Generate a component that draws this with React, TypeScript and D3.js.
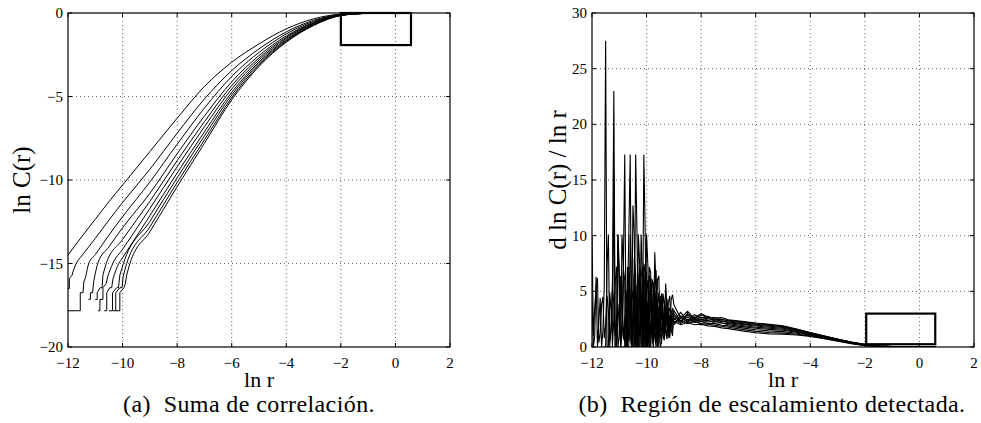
import React from "react";
import * as d3 from "d3";

// ---------- DATA ----------
const X_TICKS = [-12, -10, -8, -6, -4, -2, 0, 2];
const LEFT_Y_TICKS = [0, -5, -10, -15, -20];
const RIGHT_Y_TICKS = [0, 5, 10, 15, 20, 25, 30];

type P = [number, number];

// left panel: ln C(r) curves (stairs at the bottom + smooth body)
const corr1Stairs: P[] = [];
const corr1: P[] = [[-12, -14.5], [-11.5, -13.4], [-11, -12.35], [-10.5, -11.3], [-10, -10.3], [-9, -8.3], [-8, -6.3], [-7, -4.4], [-6, -2.95], [-5, -1.85], [-4, -0.95], [-3, -0.35], [-2, -0.07], [-1, -0.01], [0, 0], [0.6, 0]];
const corr2Stairs: P[] = [[-12, -16.5], [-11.95, -16.5], [-11.95, -15.9], [-11.85, -15.7], [-11.8, -15.4]];
const corr2: P[] = [[-11.8, -15.4], [-11.7, -15.0], [-11.5, -14.55], [-11, -13.5], [-10.5, -12.4], [-10, -11.35], [-9, -9.36], [-8, -7.2], [-7, -5.15], [-6, -3.45], [-5, -2.15], [-4, -1.13], [-3, -0.44], [-2, -0.09], [-1, -0.01], [0, 0], [0.6, 0]];
const corr3Stairs: P[] = [[-12, -17.83], [-11.55, -17.83], [-11.55, -16.75], [-11.45, -16.75], [-11.42, -16.1], [-11.35, -15.8]];
const corr3: P[] = [[-11.35, -15.8], [-11.24, -15.0], [-11, -14.47], [-10.5, -13.3], [-10, -12.2], [-9, -10.12], [-8, -7.86], [-7, -5.69], [-6, -3.8], [-5, -2.36], [-4, -1.25], [-3, -0.5], [-2, -0.1], [-1, -0.02], [0, 0], [0.6, 0]];
const corr4Stairs: P[] = [[-11.25, -17.15], [-11.18, -17.15], [-11.18, -16.75], [-11.1, -16.75], [-11.06, -16.1], [-11.0, -15.6]];
const corr4: P[] = [[-11.0, -15.6], [-10.91, -15.0], [-10.5, -14.0], [-10, -12.86], [-9, -10.8], [-8, -8.43], [-7, -6.17], [-6, -4.12], [-5, -2.55], [-4, -1.37], [-3, -0.56], [-2, -0.11], [-1, -0.02], [0, 0], [0.6, 0]];
const corr5Stairs: P[] = [[-11.0, -17.15], [-10.93, -17.15], [-10.93, -16.75], [-10.82, -16.45], [-10.75, -16.45], [-10.72, -15.7]];
const corr5: P[] = [[-10.72, -15.7], [-10.6, -15.0], [-10, -13.56], [-9, -11.28], [-8, -8.84], [-7, -6.51], [-6, -4.35], [-5, -2.69], [-4, -1.45], [-3, -0.6], [-2, -0.12], [-1, -0.02], [0, 0], [0.6, 0]];
const corr6Stairs: P[] = [[-10.9, -17.83], [-10.83, -17.83], [-10.83, -17.15], [-10.72, -17.15], [-10.72, -16.45], [-10.6, -16.2], [-10.55, -15.8]];
const corr6: P[] = [[-10.55, -15.8], [-10.36, -15.0], [-10, -14.15], [-9, -11.71], [-8, -9.21], [-7, -6.81], [-6, -4.55], [-5, -2.81], [-4, -1.52], [-3, -0.63], [-2, -0.13], [-1, -0.02], [0, 0], [0.6, 0]];
const corr7Stairs: P[] = [[-10.67, -17.83], [-10.58, -17.83], [-10.58, -16.75], [-10.47, -16.45], [-10.4, -16.45], [-10.35, -15.9]];
const corr7: P[] = [[-10.35, -15.9], [-10.14, -15.0], [-10, -14.65], [-9, -12.14], [-8, -9.58], [-7, -7.12], [-6, -4.75], [-5, -2.93], [-4, -1.59], [-3, -0.67], [-2, -0.13], [-1, -0.02], [0, 0], [0.6, 0]];
const corr8Stairs: P[] = [[-10.5, -17.83], [-10.37, -17.83], [-10.37, -16.75], [-10.22, -16.45], [-10.15, -16.45], [-10.1, -15.7]];
const corr8: P[] = [[-10.1, -15.7], [-9.97, -15.0], [-9, -12.48], [-8, -9.87], [-7, -7.36], [-6, -4.91], [-5, -3.02], [-4, -1.65], [-3, -0.7], [-2, -0.14], [-1, -0.02], [0, 0], [0.6, 0]];
const corr9Stairs: P[] = [[-10.35, -17.83], [-10.25, -17.83], [-10.25, -16.75], [-10.1, -16.45], [-10.02, -16.45], [-9.98, -15.8]];
const corr9: P[] = [[-9.98, -15.8], [-9.85, -15.0], [-9, -12.81], [-8, -10.15], [-7, -7.6], [-6, -5.07], [-5, -3.12], [-4, -1.7], [-3, -0.73], [-2, -0.15], [-1, -0.02], [0, 0], [0.6, 0]];
const corr10Stairs: P[] = [[-10.25, -17.83], [-10.1, -17.83], [-10.1, -16.75], [-9.95, -16.45], [-9.9, -16.2], [-9.85, -15.7]];
const corr10: P[] = [[-9.85, -15.7], [-9.73, -15.0], [-9, -13.1], [-8, -10.4], [-7, -7.8], [-6, -5.2], [-5, -3.2], [-4, -1.75], [-3, -0.75], [-2, -0.15], [-1, -0.02], [0, 0], [0.6, 0]];

// left panel highlighted region [x0, x1, y0, y1]
const LEFT_BOX = [-2.0, 0.57, -1.92, 0];

// right panel: d ln C(r) / ln r
const NOISE_X = [-12.0, -11.9, -11.8, -11.7, -11.6, -11.5, -11.4, -11.3, -11.2, -11.1, -11.0, -10.9, -10.8, -10.7, -10.6, -10.5, -10.4, -10.3, -10.2, -10.1, -10.0, -9.9, -9.8, -9.7, -9.6, -9.5, -9.4, -9.3, -9.2, -9.1];
const NOISE_X_MID = [-11.95, -11.85, -11.75, -11.65, -11.55, -11.45, -11.35, -11.25, -11.15, -11.05, -10.95, -10.85, -10.75, -10.65, -10.55, -10.45, -10.35, -10.25, -10.15, -10.05, -9.95, -9.85, -9.75, -9.65, -9.55, -9.45, -9.35, -9.25, -9.15, -9.05];
const SMOOTH_X = [-9.0, -8.75, -8.5, -8.25, -8.0, -7.75, -7.5, -7.25, -7.0, -6.5, -6.0, -5.5, -5.0, -4.5, -4.0, -3.5, -3.0, -2.5, -2.0, -1.5, -1.0, 0.0, 0.6];
const N = null;
const deriv1Noise = [10.0, 3.5, 6.2, 1.2, 4.5, 2.0, 3.2, 1.5, 4.0, 2.6, 1.8, 3.4, 2.2, 1.6, 3.0, 2.4, 1.9, 2.8, 2.1, 2.5, 1.8, 2.6, 2.2, 2.0, 2.4, 2.1, 2.3, 2.0, 2.2, 2.1];
const deriv2Noise = [4.2, 1.0, 0, 4.4, 1.4, 27.5, 0, 3.2, 2.5, 7.2, 1.0, 4.1, 0.5, 3.6, 2.0, 5.0, 1.2, 3.1, 2.0, 3.8, 1.6, 2.9, 2.3, 3.2, 1.8, 2.6, 2.2, 2.5, 2.0, 2.4];
const deriv3Noise = [N, N, N, N, 0, 0, 10.1, 2.0, 23.0, 0, 4.5, 1.3, 6.0, 0.4, 3.4, 1.8, 4.6, 1.0, 3.5, 2.2, 4.0, 1.5, 3.0, 2.0, 3.3, 2.4, 1.9, 2.7, 2.2, 2.5];
const deriv4Noise = [N, N, N, N, N, N, N, 0, 15.5, 0, 7.2, 2.2, 17.3, 0, 5.2, 1.0, 4.2, 0.8, 5.5, 1.4, 3.2, 2.6, 4.8, 1.2, 3.0, 1.9, 3.6, 2.0, 2.8, 2.2];
const deriv5Noise = [N, N, N, N, N, N, N, N, N, N, 0, 10.1, 0, 4.0, 17.3, 0, 6.5, 1.5, 4.4, 0, 6.8, 1.0, 3.6, 2.2, 4.1, 1.5, 3.0, 2.2, 3.4, 2.1];
const deriv6Noise = [N, N, N, N, N, N, N, N, N, N, N, 0, 0, 7.2, 1.0, 12.7, 0, 5.8, 0.5, 7.5, 0, 4.6, 1.6, 3.4, 0.5, 3.9, 1.8, 3.0, 2.0, 2.7];
const deriv7Noise = [N, N, N, N, N, N, N, N, N, N, N, N, N, 0, 10.1, 0, 17.3, 0, 6.2, 1.2, 5.0, 0, 6.1, 1.4, 3.8, 1.2, 4.4, 1.6, 3.2, 2.0];
const deriv8Noise = [N, N, N, N, N, N, N, N, N, N, N, N, N, N, N, 0, 0, 10.1, 0, 17.3, 0, 7.2, 0.8, 8.5, 0, 4.5, 1.0, 3.6, 1.5, 3.0];
const deriv9Noise = [N, N, N, N, N, N, N, N, N, N, N, N, N, N, N, N, N, 0, 10.1, 0, 10.1, 0.5, 5.4, 0.8, 6.0, 0, 4.8, 1.2, 4.0, 1.6];
const deriv10Noise = [N, N, N, N, N, N, N, N, N, N, N, N, N, N, N, N, N, N, 0, 7.2, 0.8, 6.4, 1.0, 5.0, 0, 3.8, 1.5, 5.7, 0.9, 4.2];

const deriv1Mid = [1.0, 5.5, 0.4, 3.8, 0.8, 4.6, 0.6, 5.2, 1.0, 3.9, 4.8, 0.9, 3.6, 4.2, 1.1, 3.3, 3.5, 1.2, 3.4, 1.4, 3.2, 1.6, 2.9, 3.0, 1.7, 2.8, 1.8, 2.7, 1.9, 2.3];
const deriv2Mid = [0, 6.3, 2.2, 0, 5.6, 0, 4.9, 0.3, 5.8, 0, 6.4, 0.8, 5.1, 0.5, 4.3, 0.2, 5.6, 0.9, 4.7, 0.6, 4.1, 1.1, 4.0, 0.9, 3.7, 1.4, 3.1, 1.7, 2.9, 2.0];
const deriv3Mid = [N, N, N, N, 0, 7.2, 0, 6.0, 0, 10.1, 0, 7.0, 0, 5.9, 0.2, 6.6, 0, 5.2, 0.6, 5.8, 0.4, 4.5, 0.8, 4.9, 1.2, 3.6, 1.5, 3.4, 1.8, 2.9];
const deriv4Mid = [N, N, N, N, N, N, N, 0, 0, 10.1, 0, 7.2, 0, 7.2, 0, 6.3, 0, 7.0, 0.3, 5.0, 0.6, 4.1, 0.9, 4.6, 1.3, 3.9, 1.5, 3.2, 1.8, 2.6];
const deriv5Mid = [N, N, N, N, N, N, N, N, N, N, 0, 7.2, 0, 10.1, 0, 8.0, 0, 6.9, 0.2, 5.3, 0.4, 6.2, 0.7, 4.4, 0.9, 4.8, 1.4, 3.5, 1.6, 2.8];
const deriv6Mid = [N, N, N, N, N, N, N, N, N, N, N, 0, 0, 4.8, 0, 10.1, 0, 7.2, 0, 6.8, 0.3, 5.5, 0.5, 5.1, 0.8, 4.2, 1.0, 3.7, 1.4, 3.0];
const deriv7Mid = [N, N, N, N, N, N, N, N, N, N, N, N, N, 0, 5.5, 0, 10.1, 0, 7.2, 0, 6.0, 0.2, 5.6, 0.4, 4.9, 0.6, 4.0, 1.0, 3.5, 1.5];
const deriv8Mid = [N, N, N, N, N, N, N, N, N, N, N, N, N, N, N, 0, 0, 7.2, 0, 10.1, 0, 6.7, 0, 5.2, 0.3, 4.6, 0.6, 4.3, 0.8, 3.5];
const deriv9Mid = [N, N, N, N, N, N, N, N, N, N, N, N, N, N, N, N, N, 0, 6.3, 0, 7.2, 0, 5.8, 0, 6.4, 0.4, 4.1, 0.7, 4.6, 1.0];
const deriv10Mid = [N, N, N, N, N, N, N, N, N, N, N, N, N, N, N, N, N, N, 0, 4.4, 0, 5.9, 0.3, 6.9, 0.5, 4.8, 0.9, 3.6, 1.1, 4.7];

const deriv1 = [2.3, 2.0, 2.2, 2.0, 2.05, 1.9, 1.85, 1.72, 1.65, 1.45, 1.28, 1.18, 1.15, 1.08, 0.95, 0.75, 0.52, 0.3, 0.12, 0.05, 0.03, 0.02, 0.02];
const deriv2 = [2.2, 2.4, 2.1, 2.3, 2.1, 2.05, 1.95, 1.86, 1.78, 1.58, 1.4, 1.3, 1.25, 1.15, 1.0, 0.8, 0.56, 0.33, 0.14, 0.06, 0.03, 0.02, 0.02];
const deriv3 = [2.6, 2.1, 2.5, 2.2, 2.3, 2.1, 2.1, 1.95, 1.9, 1.72, 1.55, 1.45, 1.38, 1.24, 1.05, 0.83, 0.59, 0.35, 0.15, 0.06, 0.03, 0.02, 0.02];
const deriv4 = [2.0, 2.6, 2.3, 2.5, 2.3, 2.4, 2.15, 2.15, 2.0, 1.83, 1.68, 1.58, 1.5, 1.32, 1.1, 0.86, 0.61, 0.37, 0.17, 0.07, 0.04, 0.02, 0.02];
const deriv5 = [2.8, 2.3, 2.7, 2.3, 2.5, 2.25, 2.35, 2.15, 2.1, 1.93, 1.78, 1.68, 1.6, 1.4, 1.15, 0.89, 0.63, 0.38, 0.18, 0.07, 0.04, 0.02, 0.02];
const deriv6 = [2.1, 2.8, 2.2, 2.7, 2.4, 2.6, 2.32, 2.35, 2.18, 2.02, 1.88, 1.78, 1.68, 1.46, 1.18, 0.92, 0.65, 0.4, 0.2, 0.08, 0.04, 0.02, 0.02];
const deriv7 = [3.0, 2.2, 2.9, 2.4, 2.7, 2.4, 2.5, 2.3, 2.26, 2.1, 1.96, 1.86, 1.75, 1.52, 1.22, 0.94, 0.67, 0.41, 0.21, 0.08, 0.04, 0.02, 0.02];
const deriv8 = [2.4, 3.1, 2.3, 2.9, 2.6, 2.75, 2.45, 2.5, 2.33, 2.18, 2.04, 1.94, 1.82, 1.56, 1.25, 0.96, 0.69, 0.42, 0.22, 0.09, 0.05, 0.02, 0.02];
const deriv9 = [3.3, 2.3, 3.0, 2.5, 2.9, 2.6, 2.65, 2.45, 2.4, 2.24, 2.1, 2.0, 1.86, 1.6, 1.28, 0.98, 0.7, 0.44, 0.23, 0.09, 0.05, 0.02, 0.02];
const deriv10 = [3.8, 2.6, 3.2, 2.6, 3.0, 2.7, 2.6, 2.65, 2.45, 2.3, 2.15, 2.05, 1.9, 1.62, 1.3, 1.0, 0.72, 0.45, 0.25, 0.1, 0.05, 0.02, 0.02];

const RIGHT_BOX = [-1.95, 0.58, 0.25, 3.0];

const LEFT_CAPTION = "(a)  Suma de correlación.";
const RIGHT_CAPTION = "(b)  Región de escalamiento detectada.";

// ---------- LAYOUT ----------
const W = 981;
const H = 423;
const TOP = 13;
const BOTTOM = 347;
const LEFT_AX = { x0: 68, x1: 450 };
const RIGHT_AX = { x0: 592, x1: 974 };
const FONT = "'Liberation Serif', 'Times New Roman', serif";

const fmt = (v: number) => (v < 0 ? "\u2212" + Math.abs(v) : String(v));

function Axes({
  x0, x1, yDomain, yTicks, yLabel, caption, clipId, children, box,
}: any) {
  const xs = d3.scaleLinear().domain([-12, 2]).range([x0, x1]);
  const ys = d3.scaleLinear().domain(yDomain).range([BOTTOM, TOP]);
  const tick = 4;
  const cx = (x0 + x1) / 2;
  return (
    <g>
      <defs>
        <clipPath id={clipId}>
          <rect x={x0} y={TOP} width={x1 - x0} height={BOTTOM - TOP} />
        </clipPath>
      </defs>
      {X_TICKS.slice(1, -1).map((t) => (
        <line key={"gx" + t} x1={xs(t)} x2={xs(t)} y1={TOP} y2={BOTTOM}
          stroke="#555" strokeWidth={0.9} strokeDasharray="1 3" />
      ))}
      {yTicks.filter((t: number) => t !== yDomain[0] && t !== yDomain[1]).map((t: number) => (
        <line key={"gy" + t} x1={x0} x2={x1} y1={ys(t)} y2={ys(t)}
          stroke="#555" strokeWidth={0.9} strokeDasharray="1 3" />
      ))}
      <g clipPath={`url(#${clipId})`}>{children(xs, ys)}</g>
      {box && (
        <rect x={xs(box[0])} y={ys(box[3])} width={xs(box[1]) - xs(box[0])}
          height={ys(box[2]) - ys(box[3])} fill="none" stroke="#000" strokeWidth={2.2} />
      )}
      <rect x={x0} y={TOP} width={x1 - x0} height={BOTTOM - TOP} fill="none" stroke="#000" strokeWidth={1.2} />
      {X_TICKS.map((t) => (
        <g key={"tx" + t}>
          <line x1={xs(t)} x2={xs(t)} y1={BOTTOM} y2={BOTTOM - tick} stroke="#000" />
          <line x1={xs(t)} x2={xs(t)} y1={TOP} y2={TOP + tick} stroke="#000" />
          <text x={xs(t)} y={BOTTOM + 21} textAnchor="middle" fontFamily={FONT} fontSize={15}>{fmt(t)}</text>
        </g>
      ))}
      {yTicks.map((t: number) => (
        <g key={"ty" + t}>
          <line x1={x0} x2={x0 + tick} y1={ys(t)} y2={ys(t)} stroke="#000" />
          <line x1={x1} x2={x1 - tick} y1={ys(t)} y2={ys(t)} stroke="#000" />
          <text x={x0 - 5} y={ys(t) + 5} textAnchor="end" fontFamily={FONT} fontSize={15}>{fmt(t)}</text>
        </g>
      ))}
      <text x={cx} y={387} textAnchor="middle" fontFamily={FONT} fontSize={22}>ln r</text>
      <text transform={`translate(${yLabel.x},${(TOP + BOTTOM) / 2}) rotate(-90)`} textAnchor="middle"
        fontFamily={FONT} fontSize={25}>{yLabel.text}</text>
      <text x={caption.x} y={412} textAnchor="middle" fontFamily={FONT} fontSize={24}
        letterSpacing={0.4} style={{ whiteSpace: "pre" }}>{caption.text}</text>
    </g>
  );
}

export default function App() {
  const leftSeries: [P[], P[]][] = [
    [corr1Stairs, corr1], [corr2Stairs, corr2], [corr3Stairs, corr3], [corr4Stairs, corr4],
    [corr5Stairs, corr5], [corr6Stairs, corr6], [corr7Stairs, corr7], [corr8Stairs, corr8],
    [corr9Stairs, corr9], [corr10Stairs, corr10],
  ];
  const rightSeries: [(number | null)[], (number | null)[], number[]][] = [
    [deriv1Noise, deriv1Mid, deriv1], [deriv2Noise, deriv2Mid, deriv2], [deriv3Noise, deriv3Mid, deriv3],
    [deriv4Noise, deriv4Mid, deriv4], [deriv5Noise, deriv5Mid, deriv5], [deriv6Noise, deriv6Mid, deriv6],
    [deriv7Noise, deriv7Mid, deriv7], [deriv8Noise, deriv8Mid, deriv8], [deriv9Noise, deriv9Mid, deriv9],
    [deriv10Noise, deriv10Mid, deriv10],
  ];

  return (
    <svg width={W} height={H} viewBox={`0 0 ${W} ${H}`}
      style={{ position: "absolute", left: 0, top: 0, background: "#fff" }}>
      <rect width={W} height={H} fill="#fff" />
      <Axes x0={LEFT_AX.x0} x1={LEFT_AX.x1} yDomain={[-20, 0]} yTicks={LEFT_Y_TICKS}
        yLabel={{ x: 30, text: "ln C(r)" }} caption={{ x: 249, text: LEFT_CAPTION }}
        clipId="clipL" box={LEFT_BOX}>
        {(xs: any, ys: any) => {
          const lin = d3.line<P>().x((d) => xs(d[0])).y((d) => ys(d[1]));
          const smooth = d3.line<P>().x((d) => xs(d[0])).y((d) => ys(d[1])).curve(d3.curveMonotoneX);
          return leftSeries.map(([st, sm], i) => (
            <g key={i}>
              {st.length > 0 && <path d={lin(st) || ""} fill="none" stroke="#000" strokeWidth={1} />}
              <path d={smooth(sm) || ""} fill="none" stroke="#000" strokeWidth={1} />
            </g>
          ));
        }}
      </Axes>
      <Axes x0={RIGHT_AX.x0} x1={RIGHT_AX.x1} yDomain={[0, 30]} yTicks={RIGHT_Y_TICKS}
        yLabel={{ x: 566, text: "d ln C(r) / ln r" }} caption={{ x: 772, text: RIGHT_CAPTION }}
        clipId="clipR" box={RIGHT_BOX}>
        {(xs: any, ys: any) => {
          const lin = d3.line<P>().x((d) => xs(d[0])).y((d) => ys(d[1]));
          return rightSeries.map(([noise, mid, sm], i) => {
            const pts: P[] = [];
            noise.forEach((v, j) => {
              if (v !== null) pts.push([NOISE_X[j], v]);
              const m = mid[j];
              if (m !== null) pts.push([NOISE_X_MID[j], m]);
            });
            sm.forEach((v, j) => pts.push([SMOOTH_X[j], v]));
            return <path key={i} d={lin(pts) || ""} fill="none" stroke="#000" strokeWidth={1.1} />;
          });
        }}
      </Axes>
    </svg>
  );
}
